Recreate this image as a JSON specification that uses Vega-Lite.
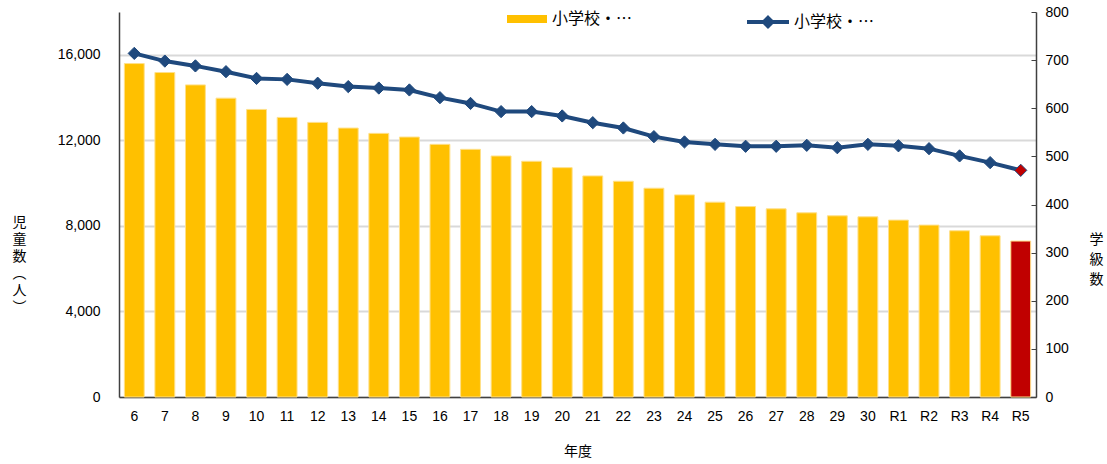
{
  "$schema": "https://vega.github.io/schema/vega-lite/v6.json",
  "width": 917,
  "height": 385,
  "autosize": {"type": "none"},
  "padding": {"left": 119, "top": 12, "right": 71, "bottom": 67},
  "background": "white",
  "config": {
    "view": {"stroke": null},
    "font": "Noto Sans CJK JP",
    "axis": {"labelFont": "Liberation Sans", "labelFontSize": 14, "labelColor": "#000000", "titleFont": "Noto Sans CJK JP", "titleFontSize": 14, "titleFontWeight": "normal", "titleColor": "#000000", "domainColor": "#404040", "domainWidth": 1.5},
    "legend": {"labelFont": "Noto Sans CJK JP", "labelFontSize": 16, "labelColor": "#000000", "padding": 0}
  },
  "data": {"values": [
    {"year": "6", "children": 15590, "classes": 714},
    {"year": "7", "children": 15170, "classes": 698},
    {"year": "8", "children": 14592, "classes": 688},
    {"year": "9", "children": 13972, "classes": 676},
    {"year": "10", "children": 13445, "classes": 662},
    {"year": "11", "children": 13072, "classes": 660},
    {"year": "12", "children": 12839, "classes": 652},
    {"year": "13", "children": 12573, "classes": 645},
    {"year": "14", "children": 12326, "classes": 642},
    {"year": "15", "children": 12154, "classes": 638},
    {"year": "16", "children": 11813, "classes": 622},
    {"year": "17", "children": 11580, "classes": 610},
    {"year": "18", "children": 11268, "classes": 593},
    {"year": "19", "children": 11021, "classes": 593},
    {"year": "20", "children": 10723, "classes": 584},
    {"year": "21", "children": 10336, "classes": 570},
    {"year": "22", "children": 10088, "classes": 559},
    {"year": "23", "children": 9762, "classes": 541},
    {"year": "24", "children": 9450, "classes": 530},
    {"year": "25", "children": 9109, "classes": 525},
    {"year": "26", "children": 8904, "classes": 521},
    {"year": "27", "children": 8797, "classes": 521},
    {"year": "28", "children": 8611, "classes": 523},
    {"year": "29", "children": 8471, "classes": 518},
    {"year": "30", "children": 8424, "classes": 525},
    {"year": "R1", "children": 8270, "classes": 522},
    {"year": "R2", "children": 8037, "classes": 516},
    {"year": "R3", "children": 7772, "classes": 501},
    {"year": "R4", "children": 7538, "classes": 487},
    {"year": "R5", "children": 7291, "classes": 471}
  ]},
  "encoding": {
    "x": {
      "field": "year", "type": "ordinal", "sort": null,
      "scale": {"paddingInner": 0.35, "paddingOuter": 0.175},
      "axis": {"title": "年度", "labelAngle": 0, "ticks": false, "tickSize": 0, "labelPadding": 12, "titlePadding": 21, "domainColor": "#404040"}
    }
  },
  "layer": [
    {
      "mark": {"type": "bar", "stroke": "#FFE08A", "strokeWidth": 1},
      "encoding": {
        "y": {
          "field": "children", "type": "quantitative",
          "scale": {"domain": [0, 18000], "nice": false},
          "axis": {
            "orient": "left",
            "values": [0, 4000, 8000, 12000, 16000],
            "format": ",d",
            "ticks": false, "tickSize": 0, "labelPadding": 19,
            "grid": true, "gridColor": "#D9D9D9", "gridWidth": 2,
            "title": ["児", "童", "数", "︵", "人", "︶"],
            "titleAngle": 0, "titleAlign": "center", "titleBaseline": "middle",
            "titleX": -100, "titleY": 210, "titleLineHeight": 17
          }
        },
        "fill": {
          "condition": {"test": "datum.year === 'R5'", "value": "#C00000"},
          "datum": "小学校・…",
          "scale": {"range": ["#FFC000"]},
          "legend": {
            "title": null, "orient": "none", "legendX": 388, "legendY": -13,
            "symbolType": "M-1,-0.2H1V0.2H-1Z", "symbolSize": 1600, "symbolStrokeWidth": 0, "labelOffset": 5
          }
        }
      }
    },
    {
      "encoding": {
        "y": {
          "field": "classes", "type": "quantitative",
          "scale": {"domain": [0, 800], "nice": false},
          "axis": {
            "orient": "right",
            "values": [0, 100, 200, 300, 400, 500, 600, 700, 800],
            "grid": false, "tickSize": -5, "tickColor": "#404040", "labelPadding": 14,
            "title": ["学", "級", "数"],
            "titleAngle": 0, "titleAlign": "center", "titleBaseline": "middle",
            "titleX": 60, "titleY": 227, "titleLineHeight": 20
          }
        }
      },
      "layer": [
        {
          "mark": {"type": "line", "strokeWidth": 4},
          "encoding": {
            "stroke": {
              "datum": "小学校・…",
              "scale": {"range": ["#1F497D"]},
              "legend": {
                "title": null, "orient": "none", "legendX": 626, "legendY": -13,
                "symbolType": "M-1,0H1M0,-0.2L0.2,0L0,0.2L-0.2,0Z", "symbolSize": 1764, "symbolStrokeWidth": 4, "symbolFillColor": "#1F497D", "labelOffset": 3
              }
            }
          }
        },
        {
          "mark": {"type": "point", "shape": "diamond", "size": 150, "filled": true, "stroke": "#1F497D", "strokeWidth": 1, "opacity": 1},
          "encoding": {
            "fill": {"condition": {"test": "datum.year === 'R5'", "value": "#C00000"}, "value": "#1F497D"}
          }
        }
      ]
    }
  ],
  "resolve": {"scale": {"y": "independent", "fill": "independent"}}
}
